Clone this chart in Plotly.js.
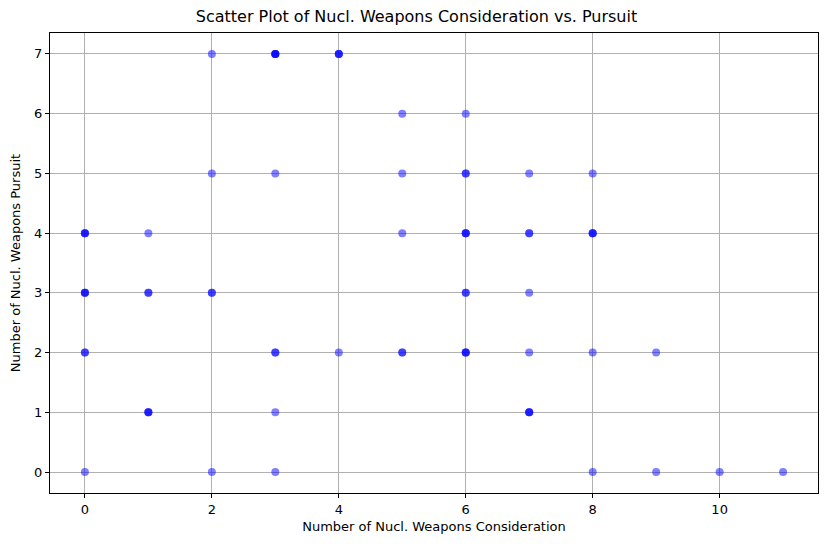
<!DOCTYPE html>
<html>
<head>
<meta charset="utf-8">
<script src="https://cdn.plot.ly/plotly-3.0.1.min.js"></script>
<style>body{margin:0;background:#fff}#chart{width:833px;height:547px}</style>
</head>
<body>
<div id="chart"></div>
<script>
// repeated pairs stand for overlapping points (darker dots)
var consideration = [0,0,0,0,0,0,0,0,0,
  1,1,1,1,1,1,
  2,2,2,2,2,
  3,3,3,3,3,3,3,3,3,
  4,4,4,4,
  5,5,5,5,5,
  6,6,6,6,6,6,6,6,6,6,6,
  7,7,7,7,7,7,7,7,
  8,8,8,8,8,8,
  9,9,10,11];
var pursuit = [0,2,2,3,3,3,4,4,4,
  1,1,1,3,3,4,
  0,3,3,5,7,
  0,1,2,2,5,7,7,7,7,
  2,7,7,7,
  2,2,4,5,6,
  2,2,2,3,3,4,4,4,5,5,6,
  1,1,1,2,3,4,4,5,
  0,2,4,4,4,5,
  0,2,0,0];

var axisStyle = {
  showgrid: true, gridcolor: '#b0b0b0', gridwidth: 1,
  zeroline: false, showline: true, mirror: true, linecolor: '#000', linewidth: 1,
  ticks: 'outside', ticklen: 4, tickcolor: '#000',
  tickfont: {size: 13, color: '#000'}
};

var data = [{
  x: consideration, y: pursuit, mode: 'markers', type: 'scatter',
  marker: {color: 'blue', opacity: 0.5, size: 8, line: {width: 0}}
}];

var layout = {
  width: 833, height: 547,
  margin: {l: 50, r: 15, t: 33, b: 54},
  font: {family: 'DejaVu Sans, sans-serif', color: '#000'},
  paper_bgcolor: '#fff', plot_bgcolor: '#fff',
  title: {text: 'Scatter Plot of Nucl. Weapons Consideration vs. Pursuit', font: {size: 16}, y: 0.97, yanchor: 'middle'},
  xaxis: Object.assign({}, axisStyle, {range: [-0.55, 11.55], dtick: 2,
    title: {text: 'Number of Nucl. Weapons Consideration', font: {size: 13}, standoff: 6}}),
  yaxis: Object.assign({}, axisStyle, {range: [-0.35, 7.35], dtick: 1,
    title: {text: 'Number of Nucl. Weapons Pursuit', font: {size: 13}, standoff: 10}}),
  showlegend: false
};

Plotly.newPlot('chart', data, layout, {displayModeBar: false});
</script>
</body>
</html>
